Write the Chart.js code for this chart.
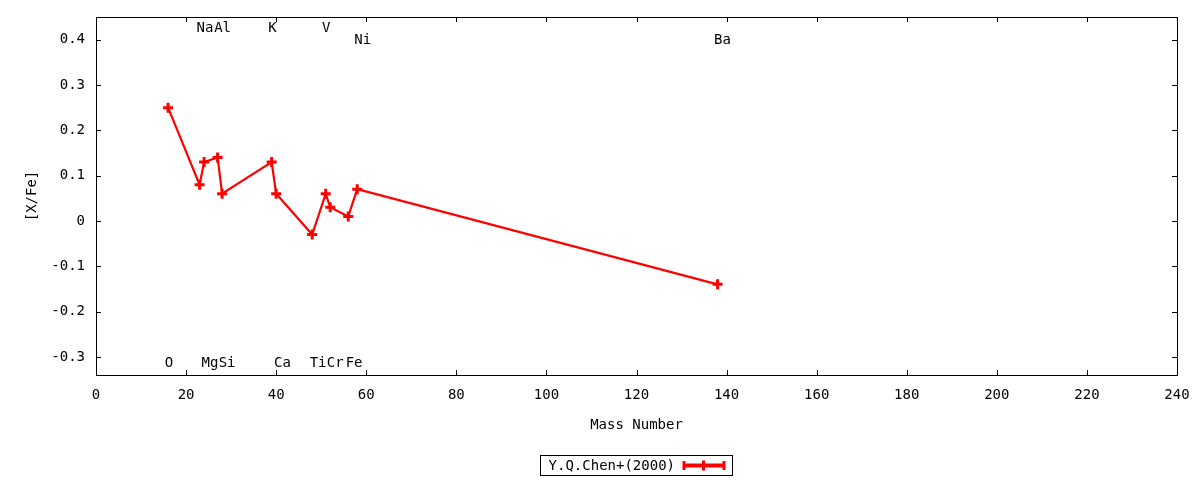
<!DOCTYPE html>
<html>
<head>
<meta charset="utf-8">
<script src="https://cdn.jsdelivr.net/npm/chart.js@4.4.1/dist/chart.umd.min.js"></script>
<style>
  html, body { margin: 0; padding: 0; background: #fff; }
  canvas { display: block; }
</style>
</head>
<body>
<canvas id="abundChart" width="1200" height="480"></canvas>
<script>
// mass number vs [X/Fe], Y.Q.Chen+(2000)
const massNumbers = [16, 23, 24, 27, 28, 39, 40, 48, 51, 52, 56, 58, 138];
const xFeValues = [0.25, 0.08, 0.13, 0.14, 0.06, 0.13, 0.06, -0.03, 0.06, 0.03, 0.01, 0.07, -0.14];

// element labels (text, x, y in data units)
const elementNames = ['O', 'Na', 'Mg', 'Al', 'Si', 'K', 'Ca', 'Ti', 'V', 'Cr', 'Fe', 'Ni', 'Ba'];
const elementLabelX = [16.2, 24.2, 25.3, 28.1, 29.1, 39.2, 41.4, 49.3, 51.1, 53.1, 57.3, 59.2, 139.1];
const elementLabelY = [-0.314, 0.425, -0.314, 0.425, -0.314, 0.425, -0.314, -0.314, 0.425, -0.314, -0.314, 0.398, 0.398];

const xTicks = [0, 20, 40, 60, 80, 100, 120, 140, 160, 180, 200, 220, 240];
const yTicks = [-0.3, -0.2, -0.1, 0, 0.1, 0.2, 0.3, 0.4];

const seriesLabel = 'Y.Q.Chen+(2000)';
const red = '#ff0000';
const fontFamily = '"DejaVu Sans Mono", monospace';

Chart.defaults.font.family = fontFamily;
Chart.defaults.font.size = 14;
Chart.defaults.color = '#000';

function drawPlus(ctx, x, y, r, w) {
    ctx.beginPath();
    ctx.moveTo(x - r, y);
    ctx.lineTo(x + r, y);
    ctx.moveTo(x, y - r);
    ctx.lineTo(x, y + r);
    ctx.lineWidth = w;
    ctx.stroke();
}

// gnuplot-like frame, inward ticks, labels and key
const gnuplotFrame = {
    id: 'gnuplotFrame',
    afterDraw(chart) {
        const ctx = chart.ctx;
        const area = chart.chartArea;
        const xs = chart.scales.x;
        const ys = chart.scales.y;
        const tick = 5;
        ctx.save();
        ctx.strokeStyle = '#000';
        ctx.lineWidth = 1;
        ctx.strokeRect(Math.round(area.left) + 0.5, Math.round(area.top) + 0.5,
            Math.round(area.right - area.left), Math.round(area.bottom - area.top));

        ctx.beginPath();
        xTicks.forEach(v => {
            const px = Math.round(xs.getPixelForValue(v)) + 0.5;
            ctx.moveTo(px, area.bottom); ctx.lineTo(px, area.bottom - tick);
            ctx.moveTo(px, area.top); ctx.lineTo(px, area.top + tick);
        });
        yTicks.forEach(v => {
            const py = Math.round(ys.getPixelForValue(v)) + 0.5;
            ctx.moveTo(area.left, py); ctx.lineTo(area.left + tick, py);
            ctx.moveTo(area.right, py); ctx.lineTo(area.right - tick, py);
        });
        ctx.stroke();

        ctx.fillStyle = '#000';
        ctx.font = '14px ' + fontFamily;
        ctx.textAlign = 'center';
        ctx.textBaseline = 'middle';
        elementNames.forEach((name, i) => {
            ctx.fillText(name, xs.getPixelForValue(elementLabelX[i]), ys.getPixelForValue(elementLabelY[i]));
        });

        // axis titles
        ctx.fillText('Mass Number', (area.left + area.right) / 2, 425);
        ctx.save();
        ctx.translate(32, (area.top + area.bottom) / 2);
        ctx.rotate(-Math.PI / 2);
        ctx.fillText('[X/Fe]', 0, 0);
        ctx.restore();

        // key
        ctx.strokeRect(540.5, 455.5, 192, 20);
        ctx.textAlign = 'right';
        ctx.fillText(seriesLabel, 675, 466);
        ctx.strokeStyle = red;
        ctx.lineWidth = 4;
        ctx.beginPath();
        ctx.moveTo(683, 465.5); ctx.lineTo(725, 465.5);
        ctx.stroke();
        ctx.lineWidth = 3;
        ctx.beginPath();
        ctx.moveTo(684, 461); ctx.lineTo(684, 470);
        ctx.moveTo(724, 461); ctx.lineTo(724, 470);
        ctx.stroke();
        drawPlus(ctx, 703.5, 465.5, 5, 3);
        ctx.restore();
    }
};

new Chart(document.getElementById('abundChart'), {
    type: 'line',
    data: {
        datasets: [{
            label: seriesLabel,
            data: massNumbers.map((m, i) => ({ x: m, y: xFeValues[i] })),
            borderColor: red,
            backgroundColor: red,
            borderWidth: 2.2,
            pointStyle: 'cross',
            pointRadius: 5,
            pointBorderWidth: 3,
            pointBorderColor: red,
            tension: 0,
            fill: false
        }]
    },
    options: {
        responsive: false,
        devicePixelRatio: 1,
        animation: false,
        layout: { padding: { top: 17, right: 23, left: 0, bottom: 0 } },
        plugins: {
            legend: { display: false },
            tooltip: { enabled: false }
        },
        scales: {
            x: {
                type: 'linear',
                min: 0,
                max: 240,
                afterBuildTicks: scale => { scale.ticks = xTicks.map(v => ({ value: v })); },
                afterFit: scale => { scale.height = 105; scale.paddingLeft = 0; scale.paddingRight = 0; },
                grid: { display: false, drawTicks: false },
                border: { display: false },
                ticks: { padding: 12, maxRotation: 0, callback: v => String(v) }
            },
            y: {
                type: 'linear',
                min: -0.34,
                max: 0.45,
                afterBuildTicks: scale => { scale.ticks = yTicks.map(v => ({ value: v })); },
                afterFit: scale => { scale.width = 96; scale.paddingTop = 0; scale.paddingBottom = 0; },
                grid: { display: false, drawTicks: false },
                border: { display: false },
                ticks: { padding: 11, callback: v => (Math.abs(v) < 1e-9 ? '0' : v.toFixed(1)) }
            }
        }
    },
    plugins: [gnuplotFrame]
});
</script>
</body>
</html>
